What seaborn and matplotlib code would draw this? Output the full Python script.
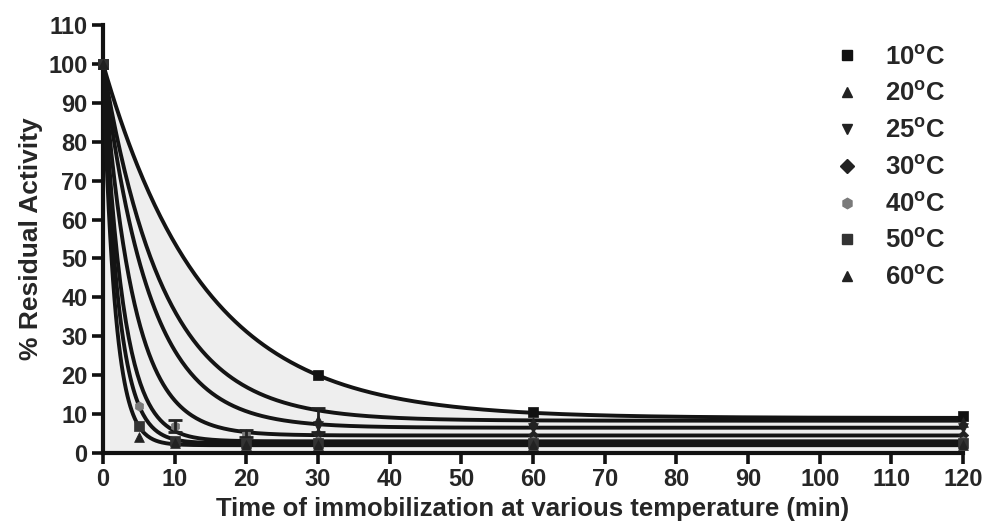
import numpy as np
import pandas as pd
import matplotlib
matplotlib.use("Agg")
import matplotlib.pyplot as plt
from matplotlib.lines import Line2D
import seaborn as sns

# Sampling times (min) and residual activity (%) for each temperature
times = [0, 5, 10, 20, 30, 60, 120]
temps = ["10", "20", "25", "30", "40", "50", "60"]
act_10 = [100, np.nan, np.nan, np.nan, 20.0, 10.5, 9.5]
act_20 = [100, np.nan, np.nan, np.nan, 8.5, 8.0, 8.0]
act_25 = [100, np.nan, np.nan, np.nan, 7.0, 6.5, 6.5]
act_30 = [100, np.nan, np.nan, np.nan, 5.0, 4.5, 4.5]
act_40 = [100, 12.0, 7.0, 5.0, 3.0, 3.0, 3.0]
act_50 = [100, 7.0, 3.0, 2.5, 2.5, 2.5, 2.5]
act_60 = [100, 4.0, 2.5, 2.0, 2.0, 2.0, 2.0]
activities = [act_10, act_20, act_25, act_30, act_40, act_50, act_60]

# Standard deviations shown as error bars (same layout as the activity lists)
sd_20 = [0, 0, 0, 0, 3.0, 0, 0]
sd_40 = [0, 0, 1.5, 1.0, 0, 0, 0]
errors = {"20": sd_20, "40": sd_40}

# One-phase decay fits: Y = plateau + (100 - plateau) * exp(-k t)
plateau = [9.0, 8.3, 6.5, 4.5, 3.0, 2.5, 2.0]
rate_k = [0.0705, 0.118, 0.155, 0.236, 0.36, 0.46, 0.60]

markers = ["s", "^", "v", "D", "h", "s", "^"]
colors = ["#111111", "#222222", "#222222", "#222222", "#7a7a7a", "#333333", "#222222"]
sizes = [60, 50, 50, 28, 45, 55, 50]

# Long-form tables for seaborn
pts = pd.DataFrame(
    [(t, y, tp) for tp, ys in zip(temps, activities) for t, y in zip(times, ys)],
    columns=["time", "activity", "temp"],
).dropna()
t_fine = np.linspace(0, 120, 600)
fit = pd.DataFrame(
    [(t, p + (100 - p) * np.exp(-k * t), tp)
     for tp, p, k in zip(temps, plateau, rate_k) for t in t_fine],
    columns=["time", "activity", "temp"],
)

sns.set_theme(style="ticks")
plt.rcParams["font.family"] = ["Liberation Sans", "DejaVu Sans"]
plt.rcParams["font.weight"] = "bold"
plt.rcParams["mathtext.fontset"] = "custom"
plt.rcParams["mathtext.rm"] = "Liberation Sans:bold"
plt.rcParams["mathtext.bf"] = "Liberation Sans:bold"

fig = plt.figure(figsize=(9.84, 5.29), dpi=100)
ax = fig.add_axes([0.1047, 0.1437, 0.874, 0.809])

# light shading beneath the slowest decay curve
top = fit[fit["temp"] == "10"]
ax.fill_between(top["time"], 0, top["activity"], color="#eeeeee", zorder=0, lw=0)

sns.lineplot(data=fit, x="time", y="activity", hue="temp",
             palette={tp: "#141414" for tp in temps}, linewidth=2.8,
             legend=False, ax=ax, zorder=3)

for tp, m, c, s in zip(temps, markers, colors, sizes):
    sub = pts[pts["temp"] == tp]
    sns.scatterplot(data=sub, x="time", y="activity", marker=m, color=c, s=s,
                    edgecolor=c, linewidth=0.5, legend=False, ax=ax, zorder=4,
                    clip_on=False)
    if tp in errors:
        ys = np.array(activities[temps.index(tp)], dtype=float)
        es = np.array(errors[tp], dtype=float)
        keep = (es > 0) & ~np.isnan(ys)
        ax.errorbar(np.array(times)[keep], ys[keep], yerr=es[keep], fmt="none",
                    ecolor="#222222", elinewidth=2, capsize=5, capthick=2, zorder=4)

ax.set_xlim(0, 120)
ax.set_ylim(0, 110)
ax.set_xticks(range(0, 121, 10))
ax.set_yticks(range(0, 111, 10))
ax.tick_params(axis="both", direction="out", length=8, width=2.6, color="#111111",
               labelsize=17, pad=3)
for lab in ax.get_xticklabels() + ax.get_yticklabels():
    lab.set_fontweight("bold")
for side in ["left", "bottom"]:
    ax.spines[side].set_linewidth(3)
    ax.spines[side].set_color("#111111")
sns.despine(ax=ax)

ax.set_xlabel("Time of immobilization at various temperature (min)", fontsize=18.5,
              fontweight="bold", labelpad=4)
ax.set_ylabel("% Residual Activity", fontsize=19, fontweight="bold", labelpad=4)

handles = [Line2D([], [], marker=m, color=c, markersize=7.5, linestyle="none")
           for m, c in zip(markers, colors)]
labels = [rf"{tp}$^{{\mathbf{{o}}}}$C" for tp in temps]
leg = ax.legend(handles, labels, loc="upper right", bbox_to_anchor=(0.998, 0.99),
                frameon=False, fontsize=18.5, labelspacing=0.47, handletextpad=1.0,
                handlelength=1.0, borderaxespad=0.2)
for txt in leg.get_texts():
    txt.set_fontweight("bold")

fig.savefig("out.png", dpi=100, facecolor="white")
